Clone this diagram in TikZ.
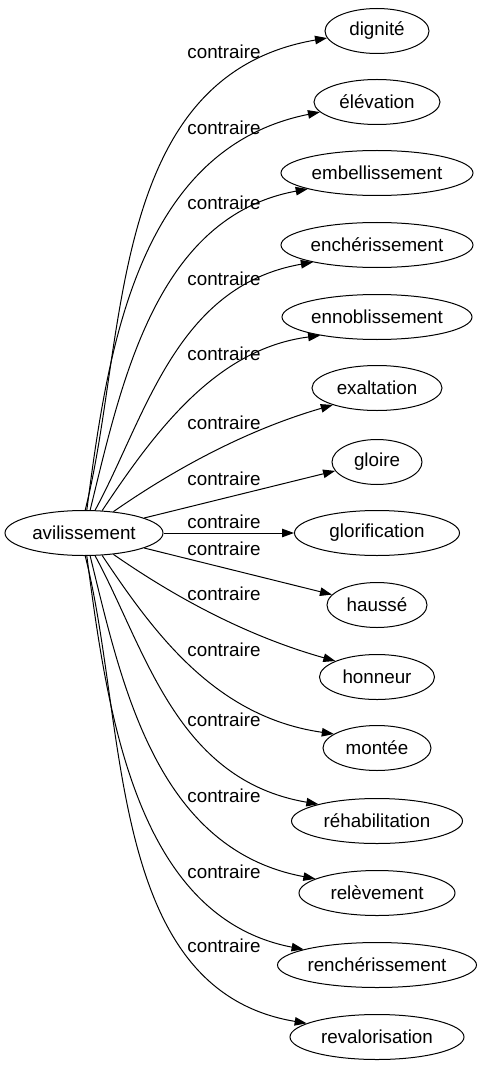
\documentclass[tikz,border=0pt]{standalone}
\usepackage{fontspec}
\setmainfont{Liberation Sans}
\usetikzlibrary{shapes.geometric,arrows.meta}
\begin{document}
\begin{tikzpicture}[x=1pt,y=-1pt,
    word/.style={ellipse,draw,line width=1pt,inner sep=0pt,minimum height=45pt,
      font=\fontsize{18.8}{20}\selectfont},
    lab/.style={inner sep=0pt,font=\fontsize{18.8}{20}\selectfont},
    link/.style={draw,line width=1pt,-{Triangle[length=12pt,width=8.5pt]}}]

      \useasboundingbox (0,0) rectangle (482,1067);

      \node[word,minimum width=158pt] (av) at (84,533) {avilissement};

      \begin{scope}[every node/.style={word}]
        \node[minimum width=104pt] (dig)   at (377,31)   {dignité};
        \node[minimum width=126pt] (elev)  at (377,102)  {élévation};
        \node[minimum width=192pt] (emb)   at (377,173)  {embellissement};
        \node[minimum width=192pt] (ench)  at (377,245)  {enchérissement};
        \node[minimum width=190pt] (enno)  at (377,317)  {ennoblissement};
        \node[minimum width=130pt] (exal)  at (377,388)  {exaltation};
        \node[minimum width=90pt]  (glo)   at (377,462)  {gloire};
        \node[minimum width=165pt] (glof)  at (377,533)  {glorification};
        \node[minimum width=100pt] (hau)   at (377,605)  {haussé};
        \node[minimum width=115pt] (hon)   at (377,677)  {honneur};
        \node[minimum width=108pt] (mon)   at (377,748)  {montée};
        \node[minimum width=171pt] (reh)   at (377,821)  {réhabilitation};
        \node[minimum width=156pt] (relev) at (377,893)  {relèvement};
        \node[minimum width=199pt] (ren)   at (377,965)  {renchérissement};
        \node[minimum width=174pt] (reva)  at (377,1037) {revalorisation};
      \end{scope}

      \begin{scope}[every node/.style={lab}]
        \node (l0)  at (224,52)  {contraire};
        \node (l1)  at (224,128) {contraire};
        \node (l2)  at (224,203) {contraire};
        \node (l3)  at (224,279) {contraire};
        \node (l4)  at (224,354) {contraire};
        \node (l5)  at (224,423) {contraire};
        \node (l6)  at (224,479) {contraire};
        \node (l7)  at (224,522) {contraire};
        \node (l8)  at (224,549) {contraire};
        \node (l9)  at (224,594) {contraire};
        \node (l10) at (224,650) {contraire};
        \node (l11) at (224,720) {contraire};
        \node (l12) at (224,796) {contraire};
        \node (l13) at (224,872) {contraire};
        \node (l14) at (224,946) {contraire};
      \end{scope}

      \begin{scope}[every path/.style={link}]
        \path (av.87)  .. controls (128,342) and (106,76)  .. (dig.188);
        \path (av.83)  .. controls (107,356) and (135,149) .. (elev.190);
        \path (av.75)  .. controls (121,385) and (155,217) .. (emb.193);
        \path (av.64)  .. controls (146,416) and (176,286) .. (ench.195);
        \path (av.51)  .. controls (154,433) and (215,349) .. (enno.198);
        \path (av.36)  .. controls (179,466) and (250,429) .. (exal.201);
        \path (av.14)  -- (glo.192);
        \path (av)     -- (glof);
        \path (av.346) -- (hau.167);
        \path (av.324) .. controls (179,600) and (250,637) .. (hon.159);
        \path (av.309) .. controls (154,633) and (215,717) .. (mon.162);
        \path (av.296) .. controls (146,650) and (176,780) .. (reh.164);
        \path (av.285) .. controls (121,681) and (155,849) .. (relev.167);
        \path (av.277) .. controls (107,710) and (135,917) .. (ren.168);
        \path (av.273) .. controls (128,724) and (106,990) .. (reva.169);
      \end{scope}

    \end{tikzpicture}
\end{document}
